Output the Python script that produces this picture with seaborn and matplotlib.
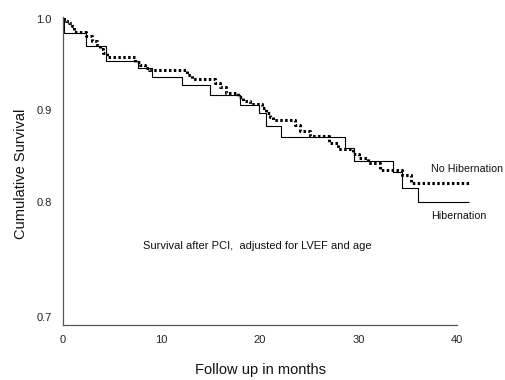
import numpy as np
import pandas as pd
import matplotlib
matplotlib.use("Agg")
import matplotlib.pyplot as plt
import seaborn as sns

# Hibernation (solid)
hib_t = [0, 0.1, 2.34, 4.4, 7.6, 9.0, 12.1, 14.9, 18.0, 19.9, 20.6, 22.1,
         28.6, 29.5, 33.5, 34.4, 36.0, 41.2]
hib_s = [1.0, 0.985, 0.9705, 0.954, 0.946, 0.936, 0.9275, 0.917, 0.906, 0.897,
         0.883, 0.871, 0.859, 0.845, 0.833, 0.815, 0.800, 0.800]

# No hibernation (dotted)
nohib_t = [0, 0.27, 0.61, 0.92, 1.12, 2.34, 2.92, 3.43, 3.77, 4.07, 4.45, 7.33,
           7.84, 8.35, 8.75, 12.59, 13.1, 15.4, 15.9, 16.5, 17.8, 18.3, 19.0,
           20.2, 20.6, 21.0, 21.3, 23.6, 24.1, 25.1, 27.0, 27.9, 29.4, 30.1,
           31.0, 32.2, 34.4, 35.3, 41.4]
nohib_s = [1.0, 0.998, 0.9953, 0.9917, 0.9861, 0.9807, 0.9763, 0.9716, 0.9669,
           0.9625, 0.9581, 0.9533, 0.9497, 0.9461, 0.9443, 0.9388, 0.9341, 0.930,
           0.9257, 0.919, 0.915, 0.910, 0.907, 0.9027, 0.897, 0.893, 0.8896,
           0.884, 0.8776, 0.8721, 0.8648, 0.858, 0.8525, 0.848, 0.8426, 0.835,
           0.8295, 0.8204, 0.8204]

x_ticks = [0, 10, 20, 30, 40]
y_ticks = [0.7, 0.8, 0.9, 1.0]
y_tick_labels = ["0.7", "0.8", "0.9", "1.0"]

sns.set_style("white")
plt.rcParams["font.family"] = ["Liberation Sans", "DejaVu Sans"]

fig = plt.figure(figsize=(5.06, 3.80), dpi=100)
ax = fig.add_axes([0.1245, 0.1447, 0.7787, 0.8106])

# piecewise-linear y scale (the 0.7-0.8 band is drawn taller, as in the original)
K = 1.257
def fwd(s):
    s = np.asarray(s, dtype=float)
    return np.where(s >= 0.8, s, 0.8 - (0.8 - s) * K)
def inv(u):
    u = np.asarray(u, dtype=float)
    return np.where(u >= 0.8, u, 0.8 - (0.8 - u) / K)
ax.set_yscale("function", functions=(fwd, inv))

df_h = pd.DataFrame({"t": hib_t, "s": hib_s})
df_n = pd.DataFrame({"t": nohib_t, "s": nohib_s})

sns.lineplot(data=df_h, x="t", y="s", ax=ax, drawstyle="steps-post",
             color="black", linewidth=0.8, estimator=None, sort=False)
sns.lineplot(data=df_n, x="t", y="s", ax=ax, drawstyle="steps-post",
             color="black", linewidth=2.2, linestyle=(0, (0.8, 0.8)),
             estimator=None, sort=False)
for ln in ax.lines:
    ln.set_clip_on(False)
    ln.set_solid_capstyle("butt")
    ln.set_dash_capstyle("butt")

ax.set_xlim(0, 40)
ax.set_ylim(0.693, 1.002)
ax.set_xticks(x_ticks)
ax.set_xticklabels([str(v) for v in x_ticks])
ax.set_yticks(y_ticks)
ax.set_yticklabels(y_tick_labels)
ax.yaxis.get_major_ticks()[0].tick1line.set_visible(False)

for side in ["top", "right"]:
    ax.spines[side].set_visible(False)
for side in ["left", "bottom"]:
    ax.spines[side].set_color("#555555")
    ax.spines[side].set_linewidth(0.9)

ax.tick_params(axis="both", which="major", direction="out", length=3,
               width=0.8, color="#555555", labelsize=8, labelcolor="#222222")
ax.tick_params(axis="y", pad=5)
ax.tick_params(axis="x", pad=4)

ax.set_xlabel("Follow up in months", fontsize=10.5, color="#111111")
ax.set_ylabel("Cumulative Survival", fontsize=10.5, color="#111111")
ax.xaxis.set_label_coords(0.5, -0.123)
ax.yaxis.set_label_coords(-0.089, 0.49)

ax.text(37.35, 0.836, "No Hibernation", fontsize=7.7, va="center", ha="left",
        color="#111111", clip_on=False)
ax.text(37.35, 0.788, "Hibernation", fontsize=7.7, va="center", ha="left",
        color="#111111", clip_on=False)
ax.text(19.7, 0.7617, "Survival after PCI,  adjusted for LVEF and age",
        fontsize=8, va="center", ha="center", color="#111111")

fig.savefig("out.png", dpi=100)
